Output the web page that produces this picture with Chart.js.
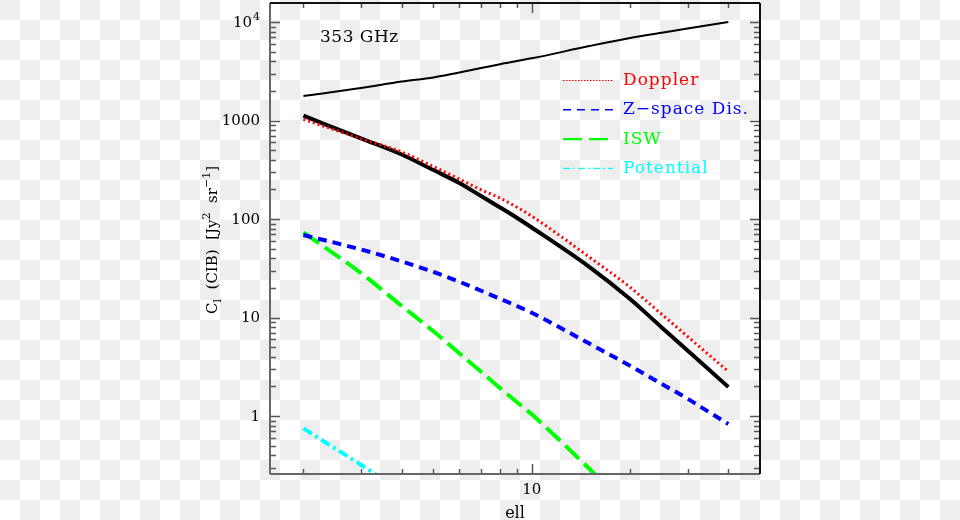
<!DOCTYPE html>
<html><head><meta charset="utf-8">
<script src="https://cdn.jsdelivr.net/npm/chart.js@4.4.0/dist/chart.umd.min.js"></script>
<style>
html,body{margin:0;padding:0;}
body{width:960px;height:520px;overflow:hidden;background:repeating-conic-gradient(#fff 0 25%, #eee 0 50%) 0 0/40px 40px;}
#wrap{position:relative;width:960px;height:520px;}
</style></head><body><div id="wrap"><canvas id="c"></canvas></div>
<script>
// ---- data ----
const ell = [2,3,4,5,6,7,8,9,10,15,20,25,30,35,40];
const totalUpper = [1774,2138,2490,2740,3080,3410,3730,4030,4280,5700,6880,7770,8590,9330,10000];
const totalCIB = [1119,658,452,314,232,171,131,103,82,32.7,15.4,7.94,4.62,2.93,1.97];
const doppler = [1028,655,479,341,255,198,163,132,107,41.1,20.3,10.8,6.43,4.14,2.84];
const zspace = [68.8,49.1,37.1,29.0,23.1,18.7,15.5,13.1,11.2,5.44,3.24,2.12,1.50,1.09,0.83];
const iswEll = [2,3,4,5,6,7,8,9,10,15,20];
const isw = [73,28.3,13.1,7.26,4.34,2.81,1.92,1.39,1.04,0.292,0.114];
const potEll = [2,3,4];
const potential = [0.75,0.32,0.172];

const legendLabels = ['Doppler','Z\u2212space Dis.','ISW','Potential'];
// tick labels: [value, main text, superscript]
const xTickLabels = [[10,'10','']];
const yTickLabels = [[1,'1',''],[10,'10',''],[100,'100',''],[1000,'1000',''],[10000,'10','4']];
const xMinorTicks = [2,3,4,5,6,7,8,9,20,30,40];
const xMajorTicks = [10];
const yMajorTicks = [1,10,100,1000,10000];
const yMinorTicks = [];
[0.1,1,10,100,1000].forEach(d=>{for(let k=2;k<=9;k++) yMinorTicks.push(k*d);});
const panelLabel = '353 GHz';
const xTitle = 'ell';

const pts = (xs, ys) => xs.map((x,i)=>({x, y: ys[i]}));
const FONT = '"DejaVu Serif", serif';

const deco = {
  id:'deco',
  afterDatasetsDraw(chart){
    const {ctx, chartArea:a, scales} = chart;
    const sx = scales.x, sy = scales.y;
    ctx.save();
    // ticks
    ctx.strokeStyle = '#555'; ctx.lineWidth = 1.5;
    const ln = (x1,y1,x2,y2)=>{ctx.beginPath();ctx.moveTo(x1,y1);ctx.lineTo(x2,y2);ctx.stroke();};
    const xt = (v,L)=>{ if(v<sx.min||v>sx.max) return; const p=Math.round(sx.getPixelForValue(v))+0.5; ln(p,a.bottom,p,a.bottom-L); ln(p,a.top,p,a.top+L); };
    const yt = (v,L)=>{ if(v<sy.min||v>sy.max) return; const p=Math.round(sy.getPixelForValue(v))+0.5; ln(a.left,p,a.left+L,p); ln(a.right,p,a.right-L,p); };
    xMinorTicks.forEach(v=>xt(v,5)); xMajorTicks.forEach(v=>xt(v,10));
    yMinorTicks.forEach(v=>yt(v,6)); yMajorTicks.forEach(v=>yt(v,10));
    // frame
    ctx.lineWidth = 2;
    ctx.strokeStyle = '#666';
    ln(a.left, a.top, a.left, a.bottom); ln(a.left, a.bottom, a.right, a.bottom);
    ctx.strokeStyle = '#111';
    ln(a.left, a.top, a.right, a.top); ln(a.right, a.top, a.right, a.bottom);

    ctx.fillStyle = '#000';
    // y tick labels
    ctx.textBaseline = 'middle';
    yTickLabels.forEach(([v,t,sup])=>{
      const p = sy.getPixelForValue(v);
      let right = a.left - 10;
      if (sup) {
        ctx.font = '11px ' + FONT; ctx.textAlign = 'right';
        ctx.fillText(sup, right, p - 5);
        right -= ctx.measureText(sup).width + 1;
      }
      ctx.font = '15px ' + FONT; ctx.textAlign = 'right';
      ctx.fillText(t, right, p + 1);
    });
    // x tick labels
    ctx.textAlign = 'center'; ctx.textBaseline = 'top';
    ctx.font = '15px ' + FONT;
    xTickLabels.forEach(([v,t])=>{ ctx.fillText(t, sx.getPixelForValue(v), a.bottom + 9); });

    // panel label
    ctx.font = '17px ' + FONT;
    ctx.textBaseline = 'alphabetic';
    ctx.textAlign = 'left';
    try { ctx.letterSpacing = '0.5px'; } catch(e){}
    ctx.fillText(panelLabel, 320, 42);
    try { ctx.letterSpacing = '0px'; } catch(e){}

    // x title
    ctx.textAlign = 'center';
    ctx.font = '16px ' + FONT;
    ctx.fillText(xTitle, (a.left+a.right)/2, 518);

    // y title (rich text, rotated)
    const parts = [
      {t:'C'},{t:'l',sub:true},{t:'  (CIB)  [Jy'},{t:'2',sup:true},{t:'  sr'},{t:'\u22121',sup:true},{t:']'}
    ];
    const base = 15, small = 11;
    let total = 0;
    parts.forEach(p=>{ ctx.font = ((p.sub||p.sup)?small:base)+'px '+FONT; p.w = ctx.measureText(p.t).width; total += p.w; });
    ctx.save();
    ctx.translate(217, 240);
    ctx.rotate(-Math.PI/2);
    ctx.textAlign = 'left';
    let cx = -total/2;
    parts.forEach(p=>{
      ctx.font = ((p.sub||p.sup)?small:base)+'px '+FONT;
      const dy = p.sup ? -7 : (p.sub ? 4 : 0);
      ctx.fillText(p.t, cx, dy);
      cx += p.w;
    });
    ctx.restore();

    // legend
    const lx0 = 563, lx1 = 613, tx = 623;
    let ly = 80.5;
    chart.data.datasets.filter(d=>d.legendDash).forEach(d=>{
      ctx.strokeStyle = d.borderColor;
      ctx.lineWidth = d.legendWidth;
      ctx.setLineDash(d.legendDash);
      ctx.lineCap = 'butt';
      ln(lx0, ly, lx1, ly);
      ctx.setLineDash([]);
      ctx.fillStyle = d.borderColor;
      ctx.font = '17px ' + FONT;
      ctx.textAlign = 'left';
      ctx.textBaseline = 'middle';
      try { ctx.letterSpacing = '1px'; } catch(e){}
      ctx.fillText(d.label, tx, ly);
      try { ctx.letterSpacing = '0px'; } catch(e){}
      ly += 29.3;
    });
    ctx.restore();
  }
};

const zeroPad = s => { s.paddingTop = 0; s.paddingBottom = 0; s.paddingLeft = 0; s.paddingRight = 0; };

new Chart(document.getElementById('c'), {
  type:'line',
  data:{
    datasets:[
      {label:legendLabels[0], data:pts(ell,doppler), borderColor:'#ff0000', borderWidth:3, borderDash:[2,3], order:0,
       legendDash:[1.5,1.5], legendWidth:1.2},
      {label:legendLabels[1], data:pts(ell,zspace), borderColor:'#0000ff', borderWidth:4, borderDash:[9,6], order:2,
       legendDash:[8,6], legendWidth:1.5},
      {label:legendLabels[2], data:pts(iswEll,isw), borderColor:'#00ff00', borderWidth:4, borderDash:[19,7], order:3,
       legendDash:[19,7], legendWidth:2.2},
      {label:legendLabels[3], data:pts(potEll,potential), borderColor:'#00ffff', borderWidth:4, borderDash:[10,4,3,4], order:4,
       cubicInterpolationMode:'default', tension:0,
       legendDash:[7,3,2,3], legendWidth:1.2},
      {label:'total', data:pts(ell,totalCIB), borderColor:'#000', borderWidth:4, order:1},
      {label:'upper', data:pts(ell,totalUpper), borderColor:'#000', borderWidth:2, order:5}
    ]
  },
  options:{
    responsive:true, maintainAspectRatio:false, animation:false,
    layout:{padding:{left:0, top:3, right:200, bottom:0}},
    elements:{point:{radius:0}, line:{cubicInterpolationMode:'monotone', borderCapStyle:'butt'}},
    plugins:{legend:{display:false}, tooltip:{enabled:false}},
    scales:{
      x:{type:'logarithmic', min:1.58, max:50,
         grid:{display:false}, border:{display:false}, ticks:{display:false},
         afterFit:s=>{ s.height = 46; zeroPad(s); }},
      y:{type:'logarithmic', min:0.258, max:15600,
         grid:{display:false}, border:{display:false}, ticks:{display:false},
         afterFit:s=>{ s.width = 270; zeroPad(s); }}
    }
  },
  plugins:[deco]
});
</script></body></html>
